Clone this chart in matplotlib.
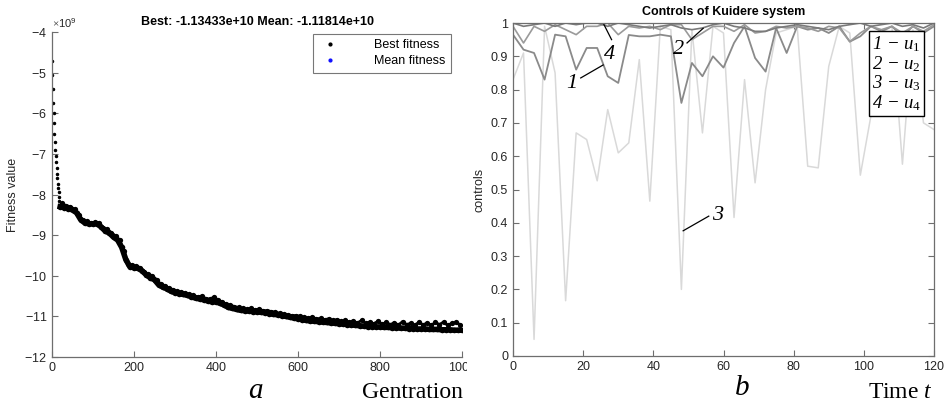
import numpy as np
import matplotlib
matplotlib.use("Agg")
import matplotlib.pyplot as plt
from matplotlib.lines import Line2D
from matplotlib.patches import Rectangle

plt.rcParams['font.family'] = ['Liberation Sans', 'DejaVu Sans']
plt.rcParams['mathtext.fontset'] = 'custom'
plt.rcParams['mathtext.rm'] = 'Liberation Serif'
plt.rcParams['mathtext.it'] = 'Liberation Serif:italic'

# ---------------- data: left panel (GA fitness, x 1e9) ----------------
early_best = [-4.72, -5.05, -5.40, -5.75, -6.00, -6.25, -6.50, -6.70, -6.90, -7.05,
              -7.20, -7.35, -7.50, -7.60, -7.75, -7.85, -7.95, -8.05, -8.15, -8.25]
best_vals = [-8.30, -8.32, -8.35, -8.38, -8.45, -8.62, -8.70, -8.72, -8.72, -8.72,
             -8.80, -8.90, -8.95, -9.05, -9.12, -9.30, -9.60, -9.78, -9.80, -9.82,
             -9.88, -9.98, -10.05, -10.10, -10.22, -10.28, -10.32, -10.38, -10.42, -10.44,
             -10.46, -10.48, -10.52, -10.55, -10.57, -10.59, -10.62, -10.64, -10.64, -10.68,
             -10.72, -10.78, -10.80, -10.83, -10.85, -10.86, -10.87, -10.88, -10.89, -10.90,
             -10.91, -10.93, -10.95, -10.96, -10.98, -11.00, -11.02, -11.04, -11.06, -11.08,
             -11.10, -11.11, -11.12, -11.13, -11.14, -11.15, -11.16, -11.17, -11.18, -11.19,
             -11.20, -11.21, -11.22, -11.23, -11.24, -11.25, -11.25, -11.26, -11.26, -11.27,
             -11.27, -11.28, -11.28, -11.29, -11.29, -11.30, -11.30, -11.31, -11.31, -11.31,
             -11.32, -11.32, -11.32, -11.33, -11.33, -11.33, -11.34, -11.34, -11.34]
mean_vals = [-8.22, -8.28, -8.30, -8.36, -8.50, -8.62, -8.66, -8.70, -8.68, -8.70,
             -8.82, -8.86, -8.94, -9.02, -9.12, -9.38, -9.70, -9.74, -9.76, -9.80,
             -9.90, -9.96, -10.00, -10.10, -10.20, -10.24, -10.30, -10.34, -10.38, -10.40,
             -10.42, -10.46, -10.48, -10.52, -10.50, -10.56, -10.58, -10.52, -10.60, -10.64,
             -10.70, -10.72, -10.76, -10.78, -10.80, -10.82, -10.80, -10.84, -10.82, -10.86,
             -10.86, -10.88, -10.90, -10.92, -10.94, -10.96, -10.98, -10.98, -11.00, -11.02,
             -11.04, -11.02, -11.06, -11.05, -11.08, -11.06, -11.10, -11.08, -11.12, -11.10,
             -11.14, -11.12, -11.16, -11.10, -11.17, -11.14, -11.18, -11.12, -11.19, -11.15,
             -11.20, -11.16, -11.21, -11.13, -11.20, -11.17, -11.22, -11.14, -11.21, -11.16,
             -11.22, -11.15, -11.20, -11.14, -11.22, -11.17, -11.15, -11.20]
early_gen = np.arange(len(early_best))
best_gen = 20 + 10 * np.arange(len(best_vals))
mean_gen = 25 + 10 * np.arange(len(mean_vals))
scale = 1e9

# ---------------- data: right panel (controls) ----------------
t = 3 * np.arange(41)
u1 = [0.965, 0.92, 0.91, 0.83, 0.965, 0.96, 0.86, 0.925, 0.925, 0.84,
      0.82, 0.964, 0.96, 0.96, 0.965, 0.96, 0.76, 0.88, 0.84, 0.90,
      0.866, 0.94, 0.99, 0.895, 0.854, 0.985, 0.91, 0.99, 0.98, 0.985,
      0.97, 0.99, 0.944, 0.96, 0.99, 0.975, 0.99, 0.96, 0.99, 0.97, 0.99]
u2 = [1.0, 0.99, 0.995, 1.0, 0.99, 1.0, 0.995, 1.0, 1.0, 0.99,
      1.0, 0.995, 0.99, 0.985, 0.99, 0.995, 0.985, 0.98, 0.985, 0.995,
      1.0, 0.99, 0.985, 0.975, 0.975, 0.985, 0.99, 0.995, 0.99, 0.985,
      0.98, 0.99, 0.995, 1.0, 0.99, 0.995, 1.0, 0.99, 0.995, 0.985, 1.0]
u3 = [0.83, 0.91, 0.05, 0.99, 0.85, 0.166, 0.67, 0.65, 0.526, 0.74,
      0.61, 0.64, 0.89, 0.465, 0.99, 0.98, 0.20, 0.98, 0.67, 0.99,
      0.97, 0.416, 0.83, 0.52, 0.80, 0.97, 0.98, 0.99, 0.57, 0.565,
      0.87, 0.99, 0.97, 0.543, 0.72, 0.97, 0.99, 0.576, 0.98, 0.70, 0.68]
u4 = [0.99, 0.94, 0.99, 0.975, 0.995, 0.98, 0.965, 0.99, 0.99, 1.0,
      0.965, 0.99, 0.985, 0.99, 0.98, 0.995, 0.995, 0.95, 0.97, 0.99,
      0.99, 0.975, 0.995, 0.97, 0.975, 0.99, 0.985, 0.99, 0.985, 0.975,
      0.99, 0.985, 0.944, 0.97, 0.99, 0.98, 0.99, 0.97, 0.99, 0.975, 0.995]
legend_lines = ['1 \u2212 $u_1$', '2 \u2212 $u_2$', '3 \u2212 $u_3$', '4 \u2212 $u_4$']

# annotation positions (label, text pos, line start, line tip) in data coords
ann = [('1', (16.8, 0.817), (19.3, 0.835), (25.7, 0.874)),
       ('4', (27.5, 0.905), (28.1, 0.95), (25.7, 1.0)),
       ('2', (47.3, 0.919), (49.6, 0.94), (54.2, 0.984)),
       ('3', (58.3, 0.423), (55.8, 0.42), (48.5, 0.376))]

W, H = 946, 405
fig = plt.figure(figsize=(W / 100, H / 100), dpi=100)
spine_c = '#6e6e6e'
tick_c = '#262626'

# ---------------- left axes ----------------
axL = fig.add_axes([52 / W, 1 - 357 / H, 410 / W, 325 / H])
axL.plot(early_gen, np.array(early_best) * scale, ls='none', marker='.', ms=3, color='k')
axL.plot(mean_gen, np.array(mean_vals) * scale, ls='-', lw=2.0, marker='o', ms=3.8,
         color='k', mew=0)
axL.plot(best_gen, np.array(best_vals) * scale, ls='-', lw=4.0, marker='o', ms=4.0,
         color='k', mew=0)
axL.set_xlim(0, 1000)
axL.set_ylim(-12e9, -4e9)
axL.set_xticks([0, 200, 400, 600, 800, 1000])
axL.set_yticks(np.arange(-12, -3, 1) * 1e9)
axL.ticklabel_format(axis='y', style='sci', scilimits=(9, 9), useMathText=True)
axL.yaxis.get_offset_text().set_fontsize(8)
axL.yaxis.get_offset_text().set_color(tick_c)
for s in ['top', 'right']:
    axL.spines[s].set_visible(False)
for s in ['left', 'bottom']:
    axL.spines[s].set_color(spine_c)
    axL.spines[s].set_linewidth(0.9)
axL.tick_params(direction='in', length=4, color=spine_c, labelsize=9, labelcolor=tick_c, width=0.8)
axL.set_ylabel('Fitness value', fontsize=9, color=tick_c, labelpad=4)
axL.set_title('Best: -1.13433e+10 Mean: -1.11814e+10', fontsize=9, fontweight='bold', pad=5)
hnd = [Line2D([], [], ls='none', marker='.', ms=4, color='k'),
       Line2D([], [], ls='none', marker='.', ms=4, color='#1010ff')]
lg = axL.legend(hnd, ['Best fitness', 'Mean fitness'], loc='upper right',
                bbox_to_anchor=(0.972, 0.995), fontsize=9, frameon=True, fancybox=False,
                edgecolor='#555555', handlelength=1.8, handletextpad=2.6, borderpad=0.45,
                labelspacing=0.3, borderaxespad=0)
lg.get_frame().set_linewidth(0.8)

# ---------------- right axes ----------------
axR = fig.add_axes([513 / W, 1 - 356 / H, 421 / W, 333 / H])
axR.plot(t, u3, color='#d9d9d9', lw=1.1)
axR.plot(t, u1, color='#8a8a8a', lw=1.3)
axR.plot(t, u4, color='#9a9a9a', lw=1.2)
axR.plot(t, u2, color='#7a7a7a', lw=1.2)
axR.set_xlim(0, 120)
axR.set_ylim(0, 1)
axR.set_xticks(np.arange(0, 121, 20))
axR.set_yticks(np.round(np.arange(0, 1.01, 0.1), 1))
axR.set_yticklabels(['0'] + ['%.1f' % v for v in np.arange(0.1, 0.95, 0.1)] + ['1'])
for s in axR.spines.values():
    s.set_color(spine_c)
    s.set_linewidth(0.9)
axR.tick_params(direction='in', length=4, color=spine_c, labelsize=9, labelcolor=tick_c,
                top=True, right=True, width=0.8)
axR.set_ylabel('controls', fontsize=9, color=tick_c, labelpad=4)
axR.set_title('Controls of Kuidere system', fontsize=9, fontweight='bold', pad=6)
axR.text(0.969, 0.966, '\n'.join(legend_lines), transform=axR.transAxes, ha='right', va='top',
         fontsize=13.5, linespacing=1.0, family='Liberation Serif', style='italic',
         bbox=dict(boxstyle='square,pad=0.17', facecolor='white', edgecolor='k', linewidth=1.0))
for lab, tp, ls_, tip in ann:
    axR.text(tp[0], tp[1], lab, fontsize=16, family='Liberation Serif', style='italic',
             ha='center', va='center')
    axR.plot([ls_[0], tip[0]], [ls_[1], tip[1]], color='k', lw=0.9)

# ---------------- captions ----------------
fig.text(255 / W, 1 - 391 / H, 'a', fontsize=21, family='Liberation Serif', style='italic',
         ha='center', va='center')
fig.text(463 / W, 1 - 393 / H, 'Gentration', fontsize=17, family='Liberation Serif',
         ha='right', va='center')
fig.text(742 / W, 1 - 388 / H, 'b', fontsize=21, family='Liberation Serif', style='italic',
         ha='center', va='center')
fig.text(933 / W, 1 - 393 / H, r'Time $t$', fontsize=17, family='Liberation Serif',
         ha='right', va='center')
fig.patches.append(Rectangle((467 / W, 1 - 380 / H), 22 / W, 25 / H, transform=fig.transFigure,
                             facecolor='white', edgecolor='none', zorder=10))

fig.savefig('out.png', dpi=100)
